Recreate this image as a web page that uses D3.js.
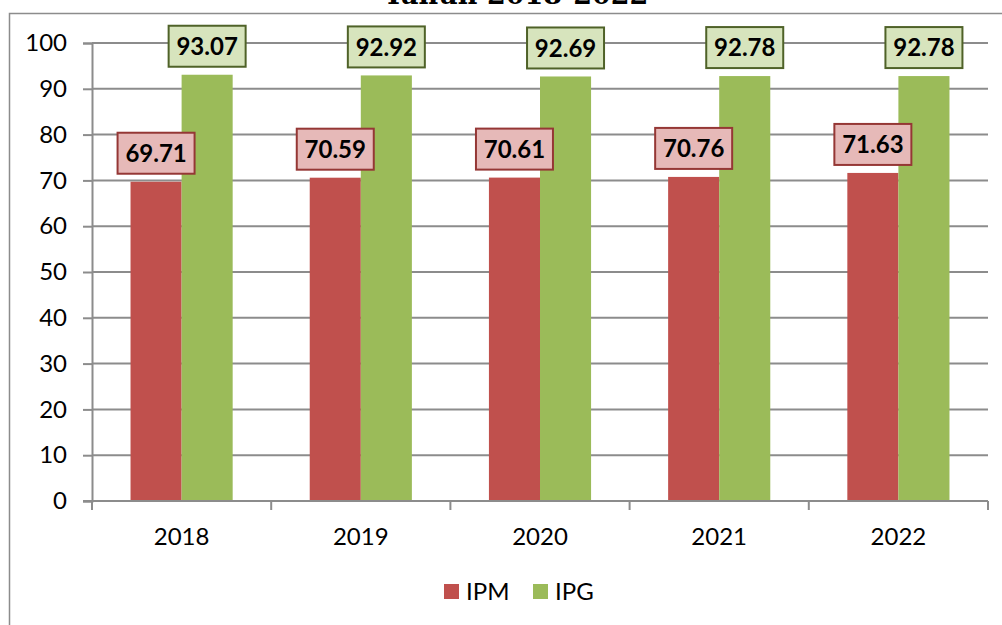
<!DOCTYPE html>
<html>
<head>
<meta charset="utf-8">
<script src="https://cdn.jsdelivr.net/npm/d3@7"></script>
<style>
  body { margin: 0; background: #fff; }
  svg { display: block; }
  text { font-family: Lato, "Open Sans", sans-serif; }
</style>
</head>
<body>
<div id="wrapper"></div>
<script>
const years = ["2018", "2019", "2020", "2021", "2022"];
const ipm = [69.71, 70.59, 70.61, 70.76, 71.63];
const ipg = [93.07, 92.92, 92.69, 92.78, 92.78];
const seriesNames = ["IPM", "IPG"];
const yTicks = [0, 10, 20, 30, 40, 50, 60, 70, 80, 90, 100];

const colors = {
  IPM: { bar: "#c0504d", box: "#e6b9b8", border: "#953735" },
  IPG: { bar: "#9bbb59", box: "#d7e4bd", border: "#4f6228" },
};

function drawChart() {
  const width = 1002;
  const height = 625;
  const gridColor = "#8c8c8c";

  const svg = d3
    .select("#wrapper")
    .append("svg")
    .attr("width", width)
    .attr("height", height);

  // outer chart border (runs off the right and bottom of the picture)
  svg
    .append("rect")
    .attr("x", 9.5)
    .attr("y", 13.5)
    .attr("width", 1100)
    .attr("height", 700)
    .attr("fill", "none")
    .attr("stroke", gridColor)
    .attr("stroke-width", 1.5);

  // title, clipped by the top edge as in the original
  svg
    .append("text")
    .attr("x", 516)
    .attr("y", 4)
    .attr("text-anchor", "middle")
    .style("font-family", "'DejaVu Serif', serif")
    .style("font-weight", "bold")
    .style("font-size", "27px")
    .text("Tahun 2018-2022");

  const plot = { left: 92, right: 988, top: 43, bottom: 501 };

  const x0 = d3
    .scaleBand()
    .domain(years)
    .range([plot.left, plot.right])
    .paddingInner(0.43)
    .paddingOuter(0.215);

  const x1 = d3
    .scaleBand()
    .domain(seriesNames)
    .range([0, x0.bandwidth()]);

  const y = d3.scaleLinear().domain([0, 100]).range([plot.bottom, plot.top]);

  // gridlines
  svg
    .append("g")
    .selectAll("line")
    .data(yTicks.filter((d) => d > 0))
    .enter()
    .append("line")
    .attr("x1", plot.left)
    .attr("x2", plot.right)
    .attr("y1", (d) => y(d))
    .attr("y2", (d) => y(d))
    .attr("stroke", gridColor)
    .attr("stroke-width", 2);

  // y axis
  const yAxis = svg
    .append("g")
    .attr("transform", `translate(${plot.left},0)`)
    .call(d3.axisLeft(y).tickValues(yTicks).tickSize(9).tickPadding(16));
  yAxis.select(".domain").attr("stroke", gridColor).attr("stroke-width", 2);
  yAxis.selectAll(".tick line").attr("stroke", gridColor).attr("stroke-width", 2);
  yAxis
    .selectAll(".tick text")
    .attr("fill", "#000")
    .style("font-size", "24px")
    .style("font-family", "Lato, sans-serif");

  // bars
  const series = [
    { name: "IPM", values: ipm },
    { name: "IPG", values: ipg },
  ];

  const bars = series.flatMap((s) =>
    s.values.map((v, i) => ({ name: s.name, year: years[i], value: v }))
  );

  svg
    .append("g")
    .selectAll("rect")
    .data(bars)
    .enter()
    .append("rect")
    .attr("x", (d) => x0(d.year) + x1(d.name))
    .attr("y", (d) => y(d.value))
    .attr("width", x1.bandwidth())
    .attr("height", (d) => y(0) - y(d.value))
    .attr("fill", (d) => colors[d.name].bar);

  // x axis
  const xEdges = [plot.left].concat(
    years.map((yr, i) => plot.left + ((i + 1) * (plot.right - plot.left)) / years.length)
  );
  const xAxis = svg.append("g");
  xAxis
    .append("line")
    .attr("x1", plot.left - 9)
    .attr("x2", plot.right)
    .attr("y1", plot.bottom)
    .attr("y2", plot.bottom)
    .attr("stroke", gridColor)
    .attr("stroke-width", 2);
  xAxis
    .selectAll(".xtick")
    .data(xEdges)
    .enter()
    .append("line")
    .attr("x1", (d) => d)
    .attr("x2", (d) => d)
    .attr("y1", plot.bottom)
    .attr("y2", plot.bottom + 9)
    .attr("stroke", gridColor)
    .attr("stroke-width", 2);
  xAxis
    .selectAll("text")
    .data(years)
    .enter()
    .append("text")
    .attr("x", (d) => x0(d) + x0.bandwidth() / 2)
    .attr("y", 545)
    .attr("text-anchor", "middle")
    .style("font-size", "24px")
    .text((d) => d);

  // data labels
  const boxW = 77;
  const boxH = 41;
  const labels = svg
    .append("g")
    .selectAll("g")
    .data(bars)
    .enter()
    .append("g")
    .attr(
      "transform",
      (d) =>
        `translate(${x0(d.year) + x1(d.name) + x1.bandwidth() / 2},${y(d.value) - 8 - boxH / 2})`
    );
  labels
    .append("rect")
    .attr("x", -boxW / 2)
    .attr("y", -boxH / 2)
    .attr("width", boxW)
    .attr("height", boxH)
    .attr("fill", (d) => colors[d.name].box)
    .attr("stroke", (d) => colors[d.name].border)
    .attr("stroke-width", 2);
  labels
    .append("text")
    .attr("text-anchor", "middle")
    .attr("dy", "0.36em")
    .style("font-size", "24px")
    .style("font-weight", "bold")
    .text((d) => d.value.toFixed(2));

  // legend
  const legend = svg
    .append("g")
    .selectAll("g")
    .data(seriesNames)
    .enter()
    .append("g")
    .attr("transform", (d, i) => `translate(${444 + i * 89},584)`);
  legend
    .append("rect")
    .attr("width", 15)
    .attr("height", 15)
    .attr("fill", (d) => colors[d].bar);
  legend
    .append("text")
    .attr("x", 22)
    .attr("y", 16)
    .style("font-size", "24px")
    .text((d) => d);
}

drawChart();
</script>
</body>
</html>
